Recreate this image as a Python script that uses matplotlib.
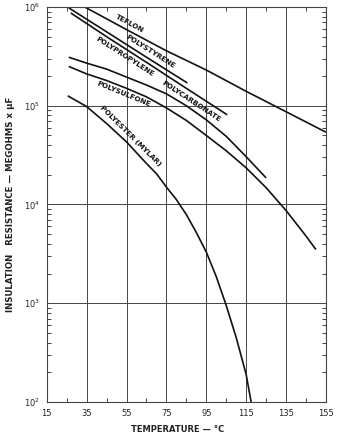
import numpy as np
import matplotlib.pyplot as plt
from matplotlib.ticker import LogLocator, FixedLocator, NullFormatter

# values (temperature degC, insulation resistance megohms x uF)
teflon_t = [34, 55, 75, 95, 115, 135, 155]
teflon_r = [1.0e6, 5.9e5, 3.6e5, 2.3e5, 1.4e5, 8.7e4, 5.4e4]

polystyrene_t = [26, 45, 65, 85.5]
polystyrene_r = [9.8e5, 5.6e5, 3.1e5, 1.7e5]

polypropylene_t = [27, 45, 65, 85, 105.5]
polypropylene_r = [8.7e5, 5.0e5, 2.75e5, 1.5e5, 8.1e4]

polycarbonate_t = [26, 35, 45, 55, 65, 75, 85, 95, 105, 115, 125]
polycarbonate_r = [3.1e5, 2.7e5, 2.35e5, 1.95e5, 1.62e5, 1.32e5, 1.0e5, 7.2e4, 4.9e4, 3.05e4, 1.86e4]

polysulfone_t = [26, 35, 45, 55, 65, 75, 85, 95, 105, 115, 125, 135, 145, 150]
polysulfone_r = [2.5e5, 2.1e5, 1.8e5, 1.5e5, 1.23e5, 9.5e4, 7.1e4, 5.0e4, 3.5e4, 2.35e4,
                 1.48e4, 8.7e3, 4.8e3, 3.5e3]

polyester_t = [25.5, 35, 45, 55, 65, 70, 75, 80, 85, 90, 95, 100, 105, 110, 115, 117.5]
polyester_r = [1.26e5, 9.8e4, 6.6e4, 4.3e4, 2.6e4, 2.05e4, 1.5e4, 1.12e4, 7.9e3, 5.2e3,
               3.3e3, 1.86e3, 9.5e2, 4.5e2, 1.9e2, 1.0e2]

xticks = [15, 35, 55, 75, 95, 115, 135, 155]

series = [("TEFLON", teflon_t, teflon_r, 55, 1),
          ("POLYSTYRENE", polystyrene_t, polystyrene_r, 65, 1),
          ("POLYPROPYLENE", polypropylene_t, polypropylene_r, 56, -1),
          ("POLYCARBONATE", polycarbonate_t, polycarbonate_r, 85.5, 1),
          ("POLYSULFONE", polysulfone_t, polysulfone_r, 55, -1),
          ("POLYESTER (MYLAR)", polyester_t, polyester_r, 54.5, 1)]

fig = plt.figure(figsize=(3.37, 4.4), dpi=100)
ax = fig.add_axes([0.139, 0.0864, 0.828, 0.8977])
ax.set_yscale('log')
ax.set_xlim(15, 155)
ax.set_ylim(1e2, 1e6)

for name, t, r, tc, side in series:
    ax.plot(t, r, color='#111111', lw=1.2, solid_capstyle='butt')

    # label runs along the curve, a few pixels off it
    lr = np.log10(r)
    yc = 10 ** np.interp(tc, t, lr)
    p1 = ax.transData.transform((tc - 3, 10 ** np.interp(tc - 3, t, lr)))
    p2 = ax.transData.transform((tc + 3, 10 ** np.interp(tc + 3, t, lr)))
    ang = np.arctan2(p2[1] - p1[1], p2[0] - p1[0])
    off = 6.5 * side
    ax.annotate(name, (tc, yc), xytext=(-np.sin(ang) * off, np.cos(ang) * off),
                textcoords='offset pixels', rotation=np.degrees(ang), rotation_mode='anchor',
                ha='center', va='center', fontsize=5.2, fontweight='bold', color='#111111')

ax.xaxis.set_major_locator(FixedLocator(xticks))
ax.xaxis.set_minor_locator(FixedLocator(range(25, 155, 20)))
ax.set_xticklabels([str(v) for v in xticks])
ax.yaxis.set_major_locator(LogLocator(base=10, numticks=10))
ax.yaxis.set_minor_locator(LogLocator(base=10, subs=np.arange(2, 10), numticks=20))
ax.yaxis.set_minor_formatter(NullFormatter())

ax.tick_params(which='both', direction='in', top=True, right=True, labelsize=6,
               colors='#222222', width=0.6)
ax.tick_params(which='major', length=0, pad=5)
ax.tick_params(which='minor', length=3)

ax.grid(True, which='major', color='#444444', lw=0.7)
for s in ax.spines.values():
    s.set_color('#444444')
    s.set_linewidth(0.8)

fig.text(0.528, 0.025, "TEMPERATURE \u2014 \u00b0C", fontsize=6, fontweight='bold',
         color='#222222', ha='center', va='center')
ax.set_ylabel("INSULATION   RESISTANCE \u2014 MEGOHMS x \u03bcF", fontsize=6.2, fontweight='bold',
              color='#222222')
ax.yaxis.set_label_coords(-0.114, 0.5)

fig.savefig("out.png", dpi=100)
